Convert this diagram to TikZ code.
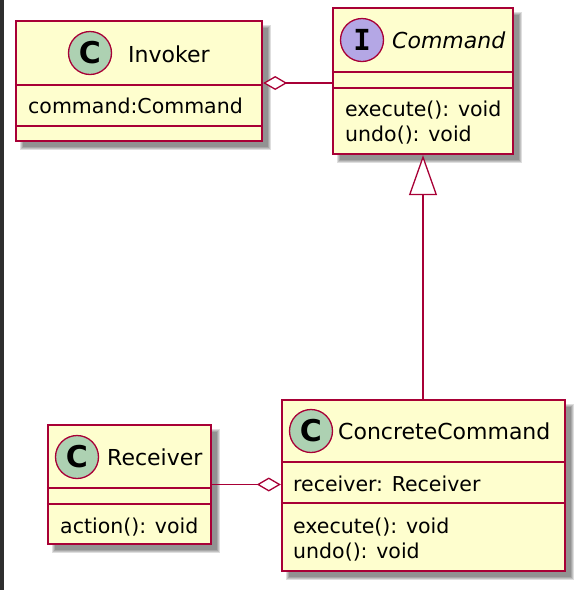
\documentclass[tikz,border=0pt]{standalone}
\usepackage{fontspec}
\setmainfont{DejaVu Sans}
\newfontfamily\monob{DejaVu Sans Mono}
\usetikzlibrary{arrows.meta,calc}
\definecolor{umlborder}{HTML}{A80036}
\definecolor{umlfill}{HTML}{FEFECE}
\definecolor{cgreen}{HTML}{ADD1B2}
\definecolor{ipurple}{HTML}{B4A7E5}
\definecolor{band}{HTML}{2E2E2E}
\tikzset{
  umlbox/.style={draw=umlborder, fill=umlfill, line width=2.4pt, rectangle, inner sep=0pt},
  sepline/.style={draw=umlborder, line width=2.4pt},
  badge/.style={circle, draw=umlborder, line width=1.3pt, minimum size=43pt, inner sep=0pt},
  title/.style={anchor=base west, inner sep=0pt, font=\fontsize{22}{26}\selectfont},
  member/.style={anchor=base west, inner sep=0pt, font=\fontsize{20.5}{25}\selectfont},
  conn/.style={draw=umlborder, line width=1.3pt},
  shadowlayer/.style={fill=black, opacity=0.13}
}
\newcommand{\boxshadow}[1]{%
  \foreach \d in {0,1,2,3}{%
    \fill[shadowlayer] ($(#1.north west)+(7-\d,7-\d)$) rectangle ($(#1.south east)+(6+\d,6+\d)$);
  }%
}
\begin{document}
\begin{tikzpicture}[x=1pt,y=-1pt]
\useasboundingbox (0,0) rectangle (584,590);
\fill[white] (0,0) rectangle (584,590);
\fill[band] (0,0) rectangle (4,590);

% box nodes (placed first as invisible coordinates for shadows)
\path (139,81) node[minimum width=246pt, minimum height=120pt, inner sep=0pt] (inv) {};
\path (423,81) node[minimum width=180pt, minimum height=146pt, inner sep=0pt] (cmd) {};
\path (423.5,485.5) node[minimum width=283pt, minimum height=171pt, inner sep=0pt] (cc) {};
\path (129.5,484.5) node[minimum width=163pt, minimum height=119pt, inner sep=0pt] (rec) {};

\boxshadow{inv}
\boxshadow{cmd}
\boxshadow{cc}
\boxshadow{rec}

\node[umlbox, minimum width=246pt, minimum height=120pt] (invbox) at (inv) {};
\node[umlbox, minimum width=180pt, minimum height=146pt] (cmdbox) at (cmd) {};
\node[umlbox, minimum width=283pt, minimum height=171pt] (ccbox) at (cc) {};
\node[umlbox, minimum width=163pt, minimum height=119pt] (recbox) at (rec) {};

% separators
\draw[sepline] (invbox.west |- 0,85) -- (invbox.east |- 0,85);
\draw[sepline] (invbox.west |- 0,126) -- (invbox.east |- 0,126);
\draw[sepline] (cmdbox.west |- 0,72) -- (cmdbox.east |- 0,72);
\draw[sepline] (cmdbox.west |- 0,88) -- (cmdbox.east |- 0,88);
\draw[sepline] (ccbox.west |- 0,462) -- (ccbox.east |- 0,462);
\draw[sepline] (ccbox.west |- 0,503) -- (ccbox.east |- 0,503);
\draw[sepline] (recbox.west |- 0,488) -- (recbox.east |- 0,488);
\draw[sepline] (recbox.west |- 0,504) -- (recbox.east |- 0,504);

% badges
\node[badge, fill=cgreen] (invc) at (90,53) {\fontsize{30}{30}\selectfont\bfseries C};
\node[badge, fill=ipurple] (cmdi) at (362,40) {\monob\fontsize{29}{29}\selectfont\bfseries I};
\node[badge, fill=cgreen] (ccc) at (311,431) {\fontsize{30}{30}\selectfont\bfseries C};
\node[badge, fill=cgreen] (recc) at (77,457) {\fontsize{30}{30}\selectfont\bfseries C};

% texts
\node[title] (invt) at (128,62) {Invoker};
\node[member] (inva) at (28,113) {command:Command};
\node[title] (cmdt) at (392,48) {\itshape Command};
\node[member] (cmdm1) at (345,116) {execute(): void};
\node[member] (cmdm2) at (345,141) {undo(): void};
\node[title] (cct) at (338,439) {ConcreteCommand};
\node[member] (cca) at (293,491) {receiver: Receiver};
\node[member] (ccm1) at (293,533) {execute(): void};
\node[member] (ccm2) at (293,558) {undo(): void};
\node[title] (rect) at (107,465) {Receiver};
\node[member] (recm) at (60,533) {action(): void};

% connectors
\draw[conn, {Diamond[length=24pt,width=14pt,fill=white,line width=1.3pt]}-]
  ($(invbox.east)+(0,2)$) -- ($(invbox.east -| cmdbox.west)+(0,2)$);
\draw[conn, -{Triangle[length=40pt,width=28pt,fill=white,line width=1.3pt]}]
  (cmdbox.south |- ccbox.north) -- (cmdbox.south);
\draw[conn, -{Diamond[length=24pt,width=14pt,fill=white,line width=1.3pt]}]
  (recbox.east) -- (recbox.east -| ccbox.west);
\end{tikzpicture}
\end{document}
